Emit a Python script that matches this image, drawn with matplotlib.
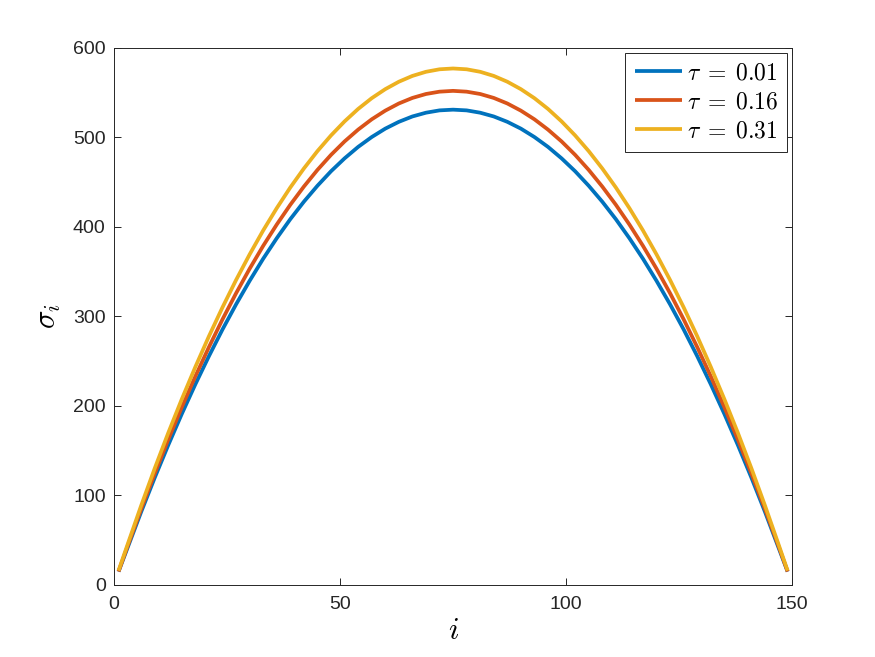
import matplotlib
matplotlib.use("Agg")
import matplotlib.pyplot as plt

idx = [1, 3, 6, 9, 12, 15, 18, 21, 24, 27, 30, 33, 36, 39, 42, 45, 48, 51, 54, 57, 60,
       63, 66, 69, 72, 75, 78, 81, 84, 87, 90, 93, 96, 99, 102, 105, 108, 111, 114,
       117, 120, 123, 126, 129, 132, 135, 138, 141, 144, 147, 149]

sigma_001 = [15.0, 41.6, 81.6, 119.8, 156.3, 191.2, 224.3, 255.7, 285.5, 313.5, 339.8,
             364.5, 387.4, 408.7, 428.2, 446.0, 462.2, 476.6, 489.4, 500.4, 509.8,
             517.4, 523.4, 527.6, 530.2, 531.0,
             530.2, 527.6, 523.4, 517.4, 509.8, 500.4, 489.4, 476.6, 462.2, 446.0,
             428.2, 408.7, 387.4, 364.5, 339.8, 313.5, 285.5, 255.7, 224.3, 191.2,
             156.3, 119.8, 81.6, 41.6, 15.0]
sigma_016 = [15.0, 43.3, 84.8, 124.5, 162.5, 198.7, 233.2, 265.8, 296.8, 325.9, 353.3,
             378.9, 402.7, 424.8, 445.1, 463.7, 480.5, 495.5, 508.7, 520.2, 529.9,
             537.9, 544.1, 548.5, 551.1, 552.0,
             551.1, 548.5, 544.1, 537.9, 529.9, 520.2, 508.7, 495.5, 480.5, 463.7,
             445.1, 424.8, 402.7, 378.9, 353.3, 325.9, 296.8, 265.8, 233.2, 198.7,
             162.5, 124.5, 84.8, 43.3, 15.0]
sigma_031 = [16.0, 45.2, 88.6, 130.2, 169.9, 207.7, 243.7, 277.9, 310.2, 340.7, 369.3,
             396.1, 421.0, 444.1, 465.3, 484.7, 502.2, 517.9, 531.8, 543.8, 553.9,
             562.2, 568.7, 573.3, 576.1, 577.0,
             576.1, 573.3, 568.7, 562.2, 553.9, 543.8, 531.8, 517.9, 502.2, 484.7,
             465.3, 444.1, 421.0, 396.1, 369.3, 340.7, 310.2, 277.9, 243.7, 207.7,
             169.9, 130.2, 88.6, 45.2, 16.0]

labels = [r"$\tau\;=\;0.01$", r"$\tau\;=\;0.16$", r"$\tau\;=\;0.31$"]
colors = ["#0072BD", "#D95319", "#EDB120"]

plt.rcParams["font.family"] = ["Liberation Sans", "DejaVu Sans"]
plt.rcParams["mathtext.fontset"] = "cm"

fig = plt.figure(figsize=(8.75, 6.57), dpi=100)
ax = fig.add_axes([0.1303, 0.1096, 0.775, 0.8175])

for ys, lab, c in zip([sigma_001, sigma_016, sigma_031], labels, colors):
    ax.plot(idx, ys, color=c, linewidth=2.7, label=lab, solid_capstyle="butt",
            solid_joinstyle="round")

ax.set_xlim(0, 150)
ax.set_ylim(0, 600)
ax.set_xticks([0, 50, 100, 150])
ax.set_yticks([0, 100, 200, 300, 400, 500, 600])

axcol = "#262626"
for sp in ax.spines.values():
    sp.set_color(axcol)
    sp.set_linewidth(0.7)
ax.tick_params(direction="in", length=5, width=0.7, colors=axcol,
               top=True, right=True, labelsize=14)
ax.tick_params(axis="y", pad=6)
ax.tick_params(axis="x", pad=8)

ax.set_xlabel(r"$i$", fontsize=22, labelpad=2)
ax.set_ylabel(r"$\sigma_i$", fontsize=22, labelpad=7)

leg = ax.legend(loc="upper right", fontsize=17, frameon=True, fancybox=False,
                edgecolor=axcol, framealpha=1, handlelength=2.0,
                borderaxespad=0.2, labelspacing=0.3, borderpad=0.4,
                handletextpad=0.2)
leg.get_frame().set_linewidth(0.7)

fig.savefig("out.png", dpi=100)
